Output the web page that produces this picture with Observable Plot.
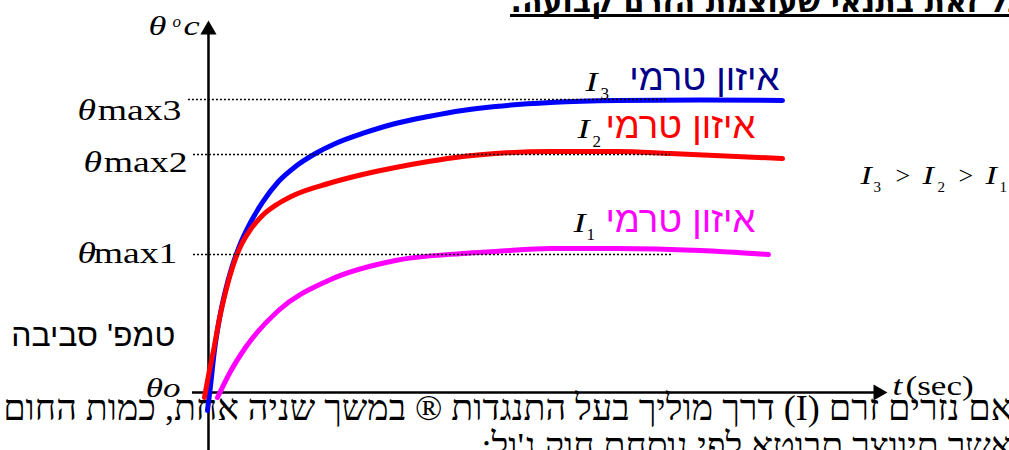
<!DOCTYPE html>
<html><head><meta charset="utf-8">
<script src="https://cdn.jsdelivr.net/npm/d3@7"></script>
<script src="https://cdn.jsdelivr.net/npm/@observablehq/plot@0.6"></script>
<style>html,body{margin:0;padding:0;overflow:hidden;background:#fff}</style>
</head><body><div id="chart"></div>
<script>
// ---- data (time in arbitrary seconds, temperature rise above ambient in arbitrary units) ----
const seriesNames = ["I3", "I2", "I1"];
const seriesColors = ["#0000ff", "#ff0000", "#ff00ff"];
const timeI3 = [-0.15, 0.22, 0.88, 1.62, 2.50, 3.53, 4.71, 6.19, 7.95, 10.31, 12.81, 15.76, 18.70, 22.68, 27.54, 32.40, 37.41, 42.27, 50.37, 60.24, 72.46, 84.54];
const tempI3 = [-6.14, 0.68, 14.33, 25.26, 34.81, 43.34, 50.85, 58.02, 64.85, 72.01, 77.13, 81.57, 84.98, 88.40, 91.81, 94.20, 96.25, 97.61, 98.98, 99.66, 99.83, 99.66];
const timeI2 = [-0.59, 0.0, 0.74, 1.62, 2.50, 3.53, 4.71, 6.19, 7.95, 10.31, 12.81, 17.67, 22.68, 27.54, 32.40, 37.41, 42.27, 50.37, 60.24, 68.04, 84.54];
const tempI2 = [-1.71, 5.80, 14.33, 25.26, 34.13, 42.66, 49.83, 55.63, 60.41, 64.51, 67.58, 71.33, 74.40, 76.79, 78.84, 80.55, 81.57, 82.25, 82.25, 81.57, 79.86];
const timeI1 = [1.33, 3.24, 5.45, 10.31, 17.67, 27.54, 37.41, 42.27, 50.37, 60.24, 72.46, 82.47];
const tempI1 = [-1.71, 7.17, 15.36, 27.99, 38.23, 45.05, 47.44, 48.12, 49.15, 49.15, 48.46, 47.10];
const levelNames = ["max3", "max2", "max1"];
const levelValues = [100, 81.2, 47.1];
const curveLabel = "איזון טרמי";
const subscripts = ["3", "2", "1"];

// ---- build tables ----
const times = [timeI3, timeI2, timeI1];
const temps = [tempI3, tempI2, tempI1];
const curves = seriesNames.flatMap((s, i) => times[i].map((t, j) => ({series: s, t, v: temps[i][j]})));
const RLE = "\u202B", PDF = "\u202C";
const heb = s => RLE + s + PDF;

const serif = "Liberation Serif, Times New Roman, serif";
const sans = "Liberation Sans, Arial, DejaVu Sans, sans-serif";

// annotation layout (in data units)
const levelLayout = [
  {x1: -2.95, x2: 67.75, thetaX: -19.29, textX: -3.98, base: 93.17},
  {x1: -2.21, x2: 68.04, thetaX: -18.41, textX: -3.09, base: 75.09},
  {x1: -2.21, x2: 68.34, thetaX: -19.29, textX: -4.57, base: 44.03}
];
const levels = levelNames.map((n, i) => ({name: n, v: levelValues[i], ...levelLayout[i]}));

const curveLabLayout = [
  {ix: 55.52, iy: 103.07, sx: 57.73, sy: 100.34, hx: 84.09, hy: 103.41, fill: "#000088"},
  {ix: 54.34, iy: 86.69, sx: 56.55, sy: 83.62, hx: 80.56, hy: 87.03, fill: "#ff0000"},
  {ix: 53.76, iy: 54.61, sx: 55.67, sy: 51.88, hx: 80.56, hy: 54.61, fill: "#ff00ff"}
];
const curveLabs = subscripts.map((s, i) => ({sub: s, ...curveLabLayout[i]}));

const ineqI = [{x: 96.02, s: "I"}, {x: 105.15, s: "I"}, {x: 114.43, s: "I"}];
const ineqSub = [{x: 97.94, s: "3"}, {x: 107.36, s: "2"}, {x: 116.49, s: "1"}];
const ineqGt = [{x: 101.18, s: ">"}, {x: 110.46, s: ">"}];

const txt = (data, o) => Plot.text(data, {lineAnchor: "bottom", ...o});

const plot = Plot.plot({
  width: 1009, height: 450,
  margin: 0,
  x: {domain: [-30.63, 117.97], range: [0, 1009], axis: null},
  y: {domain: [-19.8, 133.79], range: [450, 0], axis: null},
  marks: [
    // body text
    txt([heb("אם נזרים זרם (I) דרך מוליך בעל התנגדות ® במשך שניה אחת, כמות החום")], {x: 118.4, y: -9.56, text: d => d, textAnchor: "end", fontFamily: serif, fontSize: 36, fill: "#000"}),
    txt([heb("אשר תיווצר תבוטא לפי נוסחת חוק ג'ול:")], {x: 118.4, y: -22.53, text: d => d, textAnchor: "end", fontFamily: serif, fontSize: 36, fill: "#000"}),
    // title
    txt([heb("כל זאת בתנאי שעוצמת הזרם קבועה.")], {x: 44.48, y: 130.03, text: d => d, textAnchor: "start", fontFamily: "DejaVu Sans, sans-serif", fontWeight: "bold", fontSize: 30, fill: "#000"}),
    Plot.ruleY([128.67], {x1: 44.48, x2: 117.97, stroke: "#000", strokeWidth: 3}),
    // axes
    Plot.ruleX([0], {y1: -19.8, y2: 123, stroke: "#000", strokeWidth: 2.5}),
    Plot.ruleY([0], {x1: -2.36, x2: 98.6, stroke: "#000", strokeWidth: 2.5}),
    Plot.dot([{x: 0, y: 123.8}], {x: "x", y: "y", symbol: "triangle", r: 6, fill: "#000", stroke: "none"}),
    Plot.dot([{x: 98.63, y: 0}], {x: "x", y: "y", symbol: "triangle", r: 6, rotate: 90, fill: "#000", stroke: "none"}),
    // curves
    Plot.line(curves, {x: "t", y: "v", z: "series", stroke: d => seriesColors[seriesNames.indexOf(d.series)], strokeWidth: 5, curve: "monotone-x"}),
    // dotted level lines
    Plot.ruleY(levels, {y: "v", x1: "x1", x2: "x2", stroke: "#000", strokeWidth: 1.5, strokeDasharray: "2,2"}),
    // level labels
    txt(levels, {x: "thetaX", y: "base", text: () => "θ", textAnchor: "start", fontFamily: serif, fontStyle: "italic", fontSize: 29, fill: "#000"}),
    txt(levels, {x: "textX", y: "base", text: "name", textAnchor: "end", fontFamily: serif, fontSize: 29, fill: "#000"}),
    // axis labels
    txt([{x: -4.12, y: -1.37}], {x: "x", y: "y", text: () => "θo", textAnchor: "end", fontFamily: serif, fontStyle: "italic", fontSize: 27, fill: "#000"}),
    txt([{x: 100.74, y: -1.02}], {x: "x", y: "y", text: () => "t", textAnchor: "start", fontFamily: serif, fontStyle: "italic", fontSize: 27, fill: "#000"}),
    txt([{x: 102.65, y: -1.02}], {x: "x", y: "y", text: () => "(sec)", textAnchor: "start", fontFamily: serif, fontSize: 27, fill: "#000"}),
    txt([{x: -8.84, y: 122.18}], {x: "x", y: "y", text: () => "θ", textAnchor: "start", fontFamily: serif, fontStyle: "italic", fontSize: 28, fill: "#000"}),
    txt([{x: -5.30, y: 124.91}], {x: "x", y: "y", text: () => "o", textAnchor: "start", fontFamily: serif, fontStyle: "italic", fontSize: 17, fill: "#000"}),
    txt([{x: -3.68, y: 122.18}], {x: "x", y: "y", text: () => "c", textAnchor: "start", fontFamily: serif, fontStyle: "italic", fontSize: 28, fill: "#000"}),
    txt([heb("טמפ' סביבה")], {x: -4.86, y: 15.70, text: d => d, textAnchor: "end", fontFamily: sans, fontSize: 32, fill: "#000"}),
    // curve labels
    txt(curveLabs, {x: "ix", y: "iy", text: () => "I", textAnchor: "start", fontFamily: serif, fontStyle: "italic", fontSize: 28, fill: "#000"}),
    txt(curveLabs, {x: "sx", y: "sy", text: "sub", textAnchor: "start", fontFamily: serif, fontSize: 17, fill: "#000"}),
    txt(curveLabs, {x: "hx", y: "hy", text: () => heb(curveLabel), textAnchor: "end", fontFamily: sans, fontSize: 36.5, fill: "fill"}),
    // inequality
    txt(ineqI, {x: "x", y: () => 71.33, text: "s", textAnchor: "start", fontFamily: serif, fontStyle: "italic", fontSize: 26, fill: "#000"}),
    txt(ineqSub, {x: "x", y: () => 68.26, text: "s", textAnchor: "start", fontFamily: serif, fontSize: 15, fill: "#000"}),
    txt(ineqGt, {x: "x", y: () => 71.33, text: "s", textAnchor: "start", fontFamily: serif, fontSize: 26, fill: "#000"})
  ]
});
document.getElementById("chart").appendChild(plot);

// the reference's equation-style labels are set wider than Times; widen them to match
const widen = new Set(["max1", "max2", "max3", "θ", "θo", "t", "(sec)", "c", "I"]);
plot.querySelectorAll("text").forEach(el => {
  if (widen.has(el.textContent)) {
    const w = el.getComputedTextLength();
    el.setAttribute("textLength", (w * 1.3).toFixed(1));
    el.setAttribute("lengthAdjust", "spacingAndGlyphs");
  }
});
</script></body></html>
